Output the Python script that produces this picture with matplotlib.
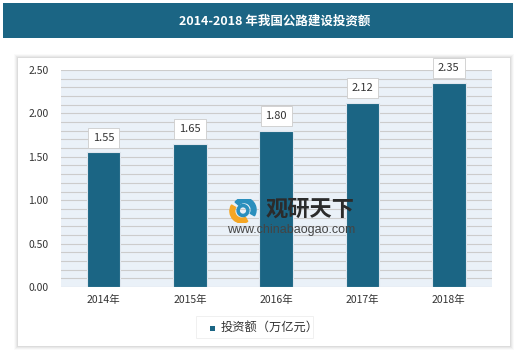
import matplotlib.pyplot as plt
from matplotlib.patches import Rectangle, Wedge

years = ['2014年', '2015年', '2016年', '2017年', '2018年']
invest = [1.55, 1.65, 1.80, 2.12, 2.35]
yticks = [0.0, 0.5, 1.0, 1.5, 2.0, 2.5]
title = '2014-2018 年我国公路建设投资额'
legend_label = '投资额（万亿元）'

plt.rcParams['font.family'] = ['Noto Sans CJK SC', 'DejaVu Sans']

bar_color = '#1b6584'
W, H = 520, 353
fig = plt.figure(figsize=(W / 100, H / 100), dpi=100)


def fx(px):
    return px / W


def fy(py):
    return 1 - py / H


# title bar
fig.patches.append(Rectangle((fx(3), fy(38)), fx(510), 35 / H, transform=fig.transFigure,
                             facecolor=bar_color, edgecolor='none', zorder=0))
fig.text(fx(275), fy(21), title, color='white', fontsize=9, fontweight='bold',
         ha='center', va='center')

# panel with soft shadow
for k, a in enumerate([0.02, 0.03, 0.04, 0.05]):
    d = 4 - k
    fig.patches.append(Rectangle((fx(18 - d), fy(346 + d)), fx(492 + 2 * d), (288 + 2 * d) / H,
                                 transform=fig.transFigure, facecolor='black', alpha=a,
                                 edgecolor='none', zorder=0))
fig.patches.append(Rectangle((fx(18), fy(346)), fx(492), 288 / H, transform=fig.transFigure,
                             facecolor='white', edgecolor='none', zorder=0))

ax = fig.add_axes([fx(60.5), fy(287), fx(431.5), (287 - 70) / H])
ax.set_zorder(2)
ax.set_facecolor('#eaf1f8')
x = range(len(years))
ax.bar(x, invest, width=0.39, color=bar_color, edgecolor='#dfe6ee', linewidth=0.8, zorder=3)
for i, v in enumerate(invest):
    ax.annotate(f'{v:.2f}', (i, v), xytext=(0, 10.5), textcoords='offset points',
                ha='center', va='center', fontsize=8, color='#333333', zorder=5,
                bbox=dict(boxstyle='square,pad=0.45', fc='white', ec='#cccccc', lw=0.6))

ax.set_ylim(0, 2.5)
ax.set_xlim(-0.5, 4.5)
ax.set_yticks(yticks)
ax.set_yticklabels([f'{t:.2f}' for t in yticks], fontsize=7.5, color='#333333')
ax.set_yticks([i / 10 for i in range(26)], minor=True)
ax.grid(axis='y', which='both', color='#cccccc', lw=0.8, zorder=1)
ax.set_xticks(list(x))
ax.set_xticklabels(years, fontsize=7.5, color='#333333')
ax.tick_params(axis='y', which='both', length=0, pad=8.5)
ax.tick_params(axis='x', which='both', length=0, pad=6)
for s in ax.spines.values():
    s.set_visible(False)

# watermark
wax = fig.add_axes([fx(224), fy(223), fx(38), 24 / H])
wax.set_zorder(3)
wax.set_xlim(0, 1.6)
wax.set_ylim(0, 1)
wax.axis('off')
wax.add_patch(Wedge((0.75, 0.5), 0.5, 150, 300, width=0.2, color='#f5a623'))
wax.add_patch(Wedge((0.85, 0.55), 0.5, -30, 140, width=0.2, color='#2a8fbd'))
wax.add_patch(Wedge((0.8, 0.52), 0.25, 0, 360, width=0.09, color='#2a8fbd'))
fig.text(fx(266), fy(209), '观研天下', fontsize=16, fontweight='bold', color='#2b2b2b',
         ha='left', va='center', zorder=4)
fig.text(fx(227), fy(230), 'www.chinabaogao.com', fontsize=9, color='#444444',
         family='Liberation Sans', ha='left', va='center', zorder=4)

# legend
fig.patches.append(Rectangle((fx(196), fy(338)), fx(117), 22 / H, transform=fig.transFigure,
                             facecolor='white', edgecolor='#eeeeee', lw=0.6, zorder=1))
fig.patches.append(Rectangle((fx(209.5), fy(331)), fx(5.5), 5.5 / H, transform=fig.transFigure,
                             facecolor=bar_color, edgecolor='none', zorder=2))
fig.text(fx(221), fy(327.5), legend_label, fontsize=8.8, color='#333333', ha='left', va='center')

fig.savefig('out.png', dpi=100)
